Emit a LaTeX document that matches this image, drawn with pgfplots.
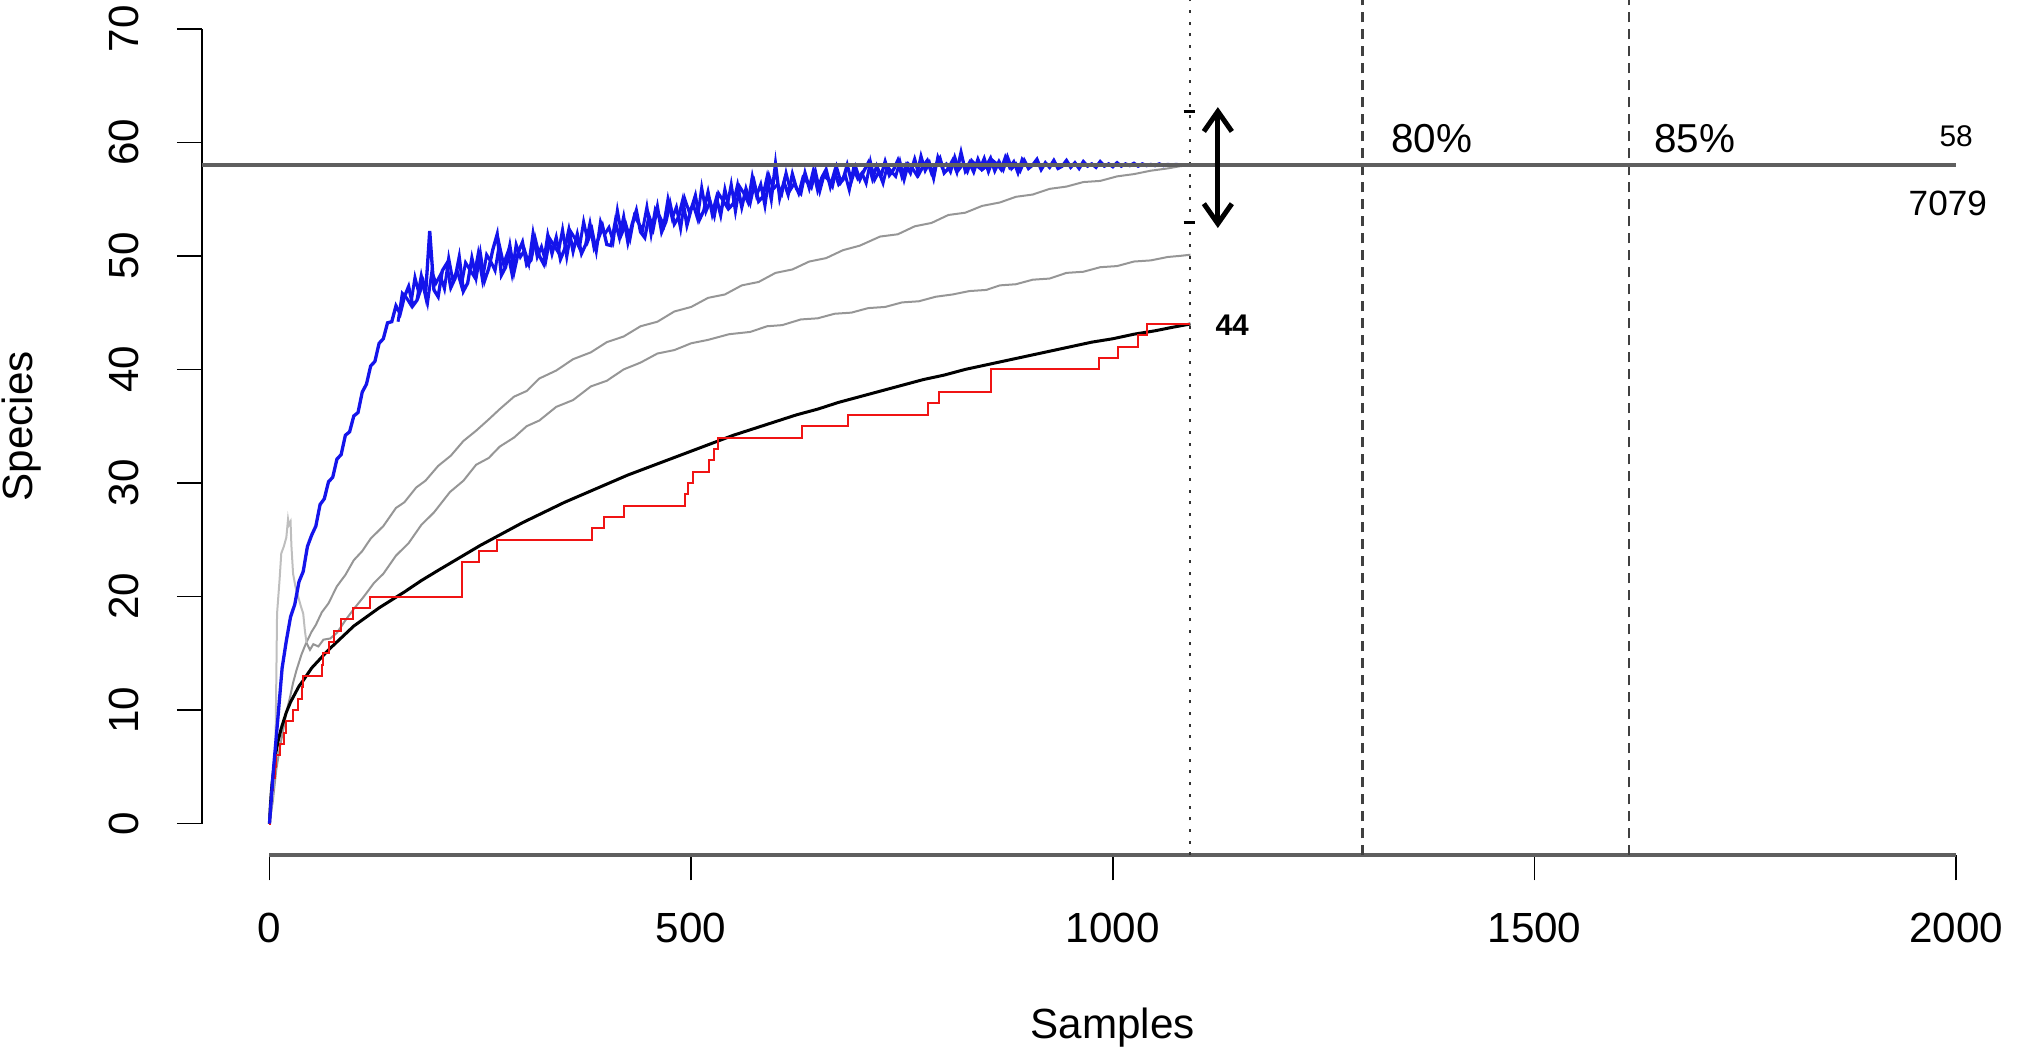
\documentclass[border=0pt]{standalone}
\usepackage{pgfplots}
\pgfplotsset{compat=1.18}
\usepackage{pgfplotstable}
\usepackage{fontspec}
\setmainfont{Liberation Sans}
\usetikzlibrary{arrows.meta}

\definecolor{rblue}{RGB}{20,20,235}
\definecolor{rgrey}{RGB}{150,150,150}
\definecolor{rlight}{RGB}{190,190,190}
\definecolor{rred}{RGB}{240,20,20}
\definecolor{refline}{RGB}{95,95,95}

% blue curve, one value every 5 samples (0, 5, ..., 1090)
\pgfplotstableread{
y
0
5.0
9.3
13.7
16.1
18.2
19.3
21.3
22.2
24.4
25.4
26.2
28.1
28.6
30.1
30.5
32.1
32.5
34.2
34.5
35.9
36.2
38.0
38.7
40.3
40.7
42.3
42.7
44.1
44.2
45.6
44.9
46.4
47.3
45.6
46.1
48.2
46.5
52.2
47.0
46.4
48.7
49.3
47.2
48.0
49.9
46.9
47.6
49.8
48.1
50.2
47.8
48.9
50.6
51.9
48.3
49.0
50.9
48.6
50.3
51.2
49.2
49.6
51.5
50.0
49.3
51.8
50.2
51.6
49.7
50.6
52.3
50.4
51.9
50.2
51.0
52.8
50.7
51.5
52.6
51.0
50.9
53.0
51.6
53.4
51.2
52.8
54.0
52.1
51.6
53.5
52.4
54.3
52.1
53.0
54.6
52.8
53.4
54.9
52.7
54.1
55.3
53.2
54.0
55.6
53.7
55.1
53.6
55.8
54.2
54.6
56.2
54.3
55.9
54.7
56.4
54.8
55.2
56.9
55.0
58.1
55.1
56.5
55.4
57.2
55.9
55.5
57.3
56.0
57.5
55.8
56.9
57.6
56.1
57.4
56.3
56.7
58.0
56.6
57.8
56.7
57.5
58.2
56.8
57.9
57.0
58.3
57.1
57.6
58.4
57.0
58.0
57.3
58.5
57.2
57.9
58.4
57.3
58.0
58.6
57.3
57.7
58.4
57.4
59.1
57.5
58.2
57.4
58.5
57.6
57.9
58.6
57.5
58.3
57.6
58.7
57.7
58.1
57.5
58.4
57.7
58.0
58.5
57.6
58.2
57.8
58.4
57.7
57.9
58.4
57.8
58.2
57.7
58.3
57.9
58.1
57.8
58.3
57.9
58.1
57.85
58.2
57.9
58.1
57.95
58.15
57.9
58.1
57.95
58.05
57.95
58.1
57.95
58.05
58.0
58.05
58.0
58.0
58.0
}\bluetab

% blue curve, in-between samples 152.5, 157.5, ..., 897.5
\pgfplotstableread{
y
44.2
46.7
46.3
45.7
48.1
46.6
47.7
45.9
48.6
47.6
48.3
47.1
49.8
47.8
48.7
47.4
49.4
48.8
48.2
50.2
47.9
50.1
49.5
48.7
51.0
49.3
50.3
48.4
51.0
49.9
50.5
49.3
52.0
49.9
50.8
49.5
51.5
50.9
50.3
52.3
49.9
52.1
51.5
50.7
53.0
51.3
52.3
50.4
53.0
51.9
52.5
51.3
54.0
51.9
52.8
51.5
53.5
52.9
52.3
54.3
51.9
54.1
53.5
52.7
55.0
53.3
54.3
52.4
55.0
53.9
54.5
53.3
56.0
53.9
54.8
53.5
55.5
54.9
54.3
56.3
53.9
56.1
55.5
54.7
57.0
55.3
56.3
54.4
57.0
55.9
56.3
55.5
57.3
55.8
56.4
55.5
56.9
56.5
56.0
57.4
55.7
57.1
56.7
56.1
57.8
56.5
57.2
55.8
57.7
56.8
57.3
56.4
58.3
56.7
57.4
56.4
57.9
57.4
57.0
58.3
56.7
58.1
57.7
57.1
58.8
57.5
58.2
56.8
58.7
57.8
58.1
57.4
58.7
57.6
58.1
57.4
58.4
58.0
57.7
58.6
57.4
58.4
58.1
57.6
58.7
57.8
58.3
57.3
58.5
58.0
}\bluemid

\begin{document}
\begin{tikzpicture}
\begin{axis}[
    at={(0,0)}, anchor=south west,
    scale only axis, width=182.17mm, height=85.84mm,
    xmin=-80, xmax=2080, ymin=-2.8, ymax=72.8,
    axis x line*=bottom, axis y line*=left,
    axis line style={draw=none},
    tick align=outside, major tick length=2.5mm,
    tick style={black, line width=0.15mm},
    xtick={0,500,...,2000}, ytick={0,10,...,70},
    /pgf/number format/assume math mode=true,
    /pgf/number format/1000 sep={},
    ticklabel style={font=\fontsize{12}{14}\selectfont, inner sep=0pt},
    xticklabel style={anchor=north},
    xticklabel shift=3.2mm,
    yticklabel style={rotate=90, anchor=south},
    yticklabel shift=3.7mm,
    xlabel={Samples}, ylabel={Species},
    label style={font=\fontsize{12}{14}\selectfont},
    xlabel style={at={(axis description cs:0.5,-0.2004)}, anchor=center},
    ylabel style={at={(axis description cs:-0.0988,0.5)}, anchor=center},
    clip=false,
]
% axis lines drawn the R way
\draw[black, line width=0.2mm] (-80,0) -- (-80,70);
\draw[refline, line width=0.4mm] (0,-2.8) -- (2000,-2.8);

% reference lines
\draw[black!80, line width=0.2mm, dash pattern=on 0.3mm off 0.87mm] (1092,-2.8) -- (1092,72.8);
\draw[black!75, line width=0.22mm, dash pattern=on 1.0mm off 0.7mm] (1296,-2.8) -- (1296,72.8);
\draw[black!75, line width=0.22mm, dash pattern=on 1.0mm off 0.7mm] (1612,-2.8) -- (1612,72.8);

% grey curves
\addplot[rgrey, line width=0.2mm] coordinates {
(0,0) (4,2.0) (8,4.7) (12,6.6) (16,8.1) (20,9.8) (24,11.0) (28,12.4) (32,13.5)
(38,14.9) (44,16.0) (50,16.9) (55,17.5) (62,18.6) (70,19.4) (80,20.9) (90,21.9)
(100,23.2) (110,24.0) (120,25.1) (135,26.2) (150,27.8) (160,28.3) (174,29.6)
(185,30.2) (200,31.5) (215,32.4) (230,33.7) (245,34.6) (260,35.6) (273,36.5)
(290,37.6) (305,38.1) (320,39.2) (340,39.9) (360,40.9) (381,41.5) (400,42.4)
(420,42.9) (440,43.8) (460,44.2) (480,45.1) (500,45.5) (520,46.3) (540,46.6)
(560,47.4) (580,47.7) (600,48.5) (620,48.8) (640,49.5) (660,49.8) (680,50.5)
(700,50.9) (724,51.7) (745,51.9) (765,52.6) (785,52.9) (805,53.6) (825,53.8)
(845,54.4) (866,54.7) (885,55.2) (905,55.4) (925,55.9) (945,56.1) (965,56.5)
(985,56.6) (1005,57.0) (1025,57.2) (1045,57.5) (1065,57.7) (1080,57.9) (1092,58.0)
};
\addplot[rlight, line width=0.2mm] coordinates {
(0,0) (4,2.5) (7,6) (8,12) (9,18.5) (12,21.5) (14,23.8) (17,24.4) (20,25.2)
(22,26.8) (23,26.3) (25,26.6) (26,24.5) (28,22.0) (31,20.8) (34,20.0) (37,19.2)
(40,18.5) (42,17.0) (44,15.9)
};
\addplot[rgrey, line width=0.2mm] coordinates {
(44,15.9) (48,15.3) (52,15.8) (58,15.6) (64,16.2) (72,16.3) (80,16.8) (90,17.9)
(100,18.9) (112,20.0) (124,21.2) (135,22.0) (150,23.6) (165,24.7) (180,26.3)
(195,27.4) (214,29.2) (230,30.2) (245,31.6) (260,32.2) (273,33.2) (290,34.0)
(305,35.0) (320,35.5) (340,36.7) (360,37.3) (381,38.5) (400,39.0) (420,40.0)
(440,40.6) (460,41.4) (480,41.7) (500,42.3) (520,42.6) (545,43.1) (570,43.3)
(590,43.8) (608,43.9) (630,44.4) (650,44.5) (670,44.9) (690,45.0) (710,45.4)
(730,45.5) (750,45.9) (770,46.0) (790,46.4) (810,46.6) (830,46.9) (850,47.0)
(866,47.4) (885,47.5) (905,47.9) (925,48.0) (945,48.5) (965,48.6) (985,49.0)
(1005,49.1) (1025,49.5) (1045,49.6) (1065,49.9) (1080,50.0) (1092,50.1)
};

% black expected curve
\addplot[black, line width=0.3mm] coordinates {
(0,0) (1,1.5) (2,2.6) (3,3.5) (5,4.8) (7,6.0) (10,7.2) (14,8.4) (20,9.8) (25,10.7)
(30,11.4) (35,12.1) (40,12.6) (50,13.7) (60,14.5) (70,15.3) (80,16.0) (90,16.7)
(100,17.4) (115,18.2) (130,19.0) (145,19.7) (160,20.4) (180,21.4) (200,22.3)
(225,23.4) (250,24.5) (275,25.5) (300,26.5) (325,27.4) (350,28.3) (375,29.1)
(400,29.9) (425,30.7) (450,31.4) (475,32.1) (500,32.8) (525,33.5) (550,34.2)
(575,34.8) (600,35.4) (625,36.0) (650,36.5) (675,37.1) (700,37.6) (725,38.1)
(750,38.6) (775,39.1) (800,39.5) (825,40.0) (850,40.4) (875,40.8) (900,41.2)
(925,41.6) (950,42.0) (975,42.4) (1000,42.7) (1025,43.1) (1050,43.4) (1070,43.7)
(1092,44.0)
};

% red observed accumulation
\addplot[rred, line width=0.2mm, const plot] coordinates {
(0,0) (1,1) (2,2) (3,3) (4,4) (6,5) (8,6) (12,7) (17,8) (20,9) (28,10) (34,11)
(38,12) (40,13) (62,14) (63,15) (70,16) (76,17) (85,18) (99,19) (119,20) (228,23)
(249,24) (270,25) (382,26) (397,27) (420,28) (493,29) (496,30) (502,31) (521,32)
(527,33) (532,34) (631,35) (686,36) (781,37) (794,38) (855,39) (856,40) (983,41)
(1006,42) (1030,43) (1040,44) (1092,44)
};

% blue curve
\addplot[rblue, line width=0.33mm] table[x expr=\coordindex*5, y=y] {\bluetab};
\addplot[rblue, line width=0.3mm] table[x expr=152.5+\coordindex*5, y=y] {\bluemid};

% asymptote
\draw[refline, line width=0.35mm] (-80,58) -- (2000,58);

% annotations
\draw[black, line width=0.3mm] (1084,62.7) -- (1097,62.7);
\draw[black, line width=0.3mm] (1084,52.9) -- (1097,52.9);
\draw[{Straight Barb[length=2mm,width=2.8mm]}-{Straight Barb[length=2mm,width=2.8mm]}, line width=0.5mm]
  (1124.5,52.45) -- (1124.5,63.1);
\node[font=\fontsize{11.5}{13}\selectfont] at (1378,60.3) {80\%};
\node[font=\fontsize{11.5}{13}\selectfont] at (1690,60.3) {85\%};
\node[font=\fontsize{8.5}{10}\selectfont] at (2000,60.55) {58};
\node[font=\fontsize{10}{12}\selectfont] at (1990,54.65) {7079};
\node[font=\bfseries\fontsize{8.5}{10}\selectfont, anchor=west, inner sep=0pt] at (1121,43.9) {44};
\end{axis}
\pgfresetboundingbox
\path[use as bounding box] (-20.2mm,-19.56mm) rectangle (182.9mm,85.54mm);
\end{tikzpicture}
\end{document}
